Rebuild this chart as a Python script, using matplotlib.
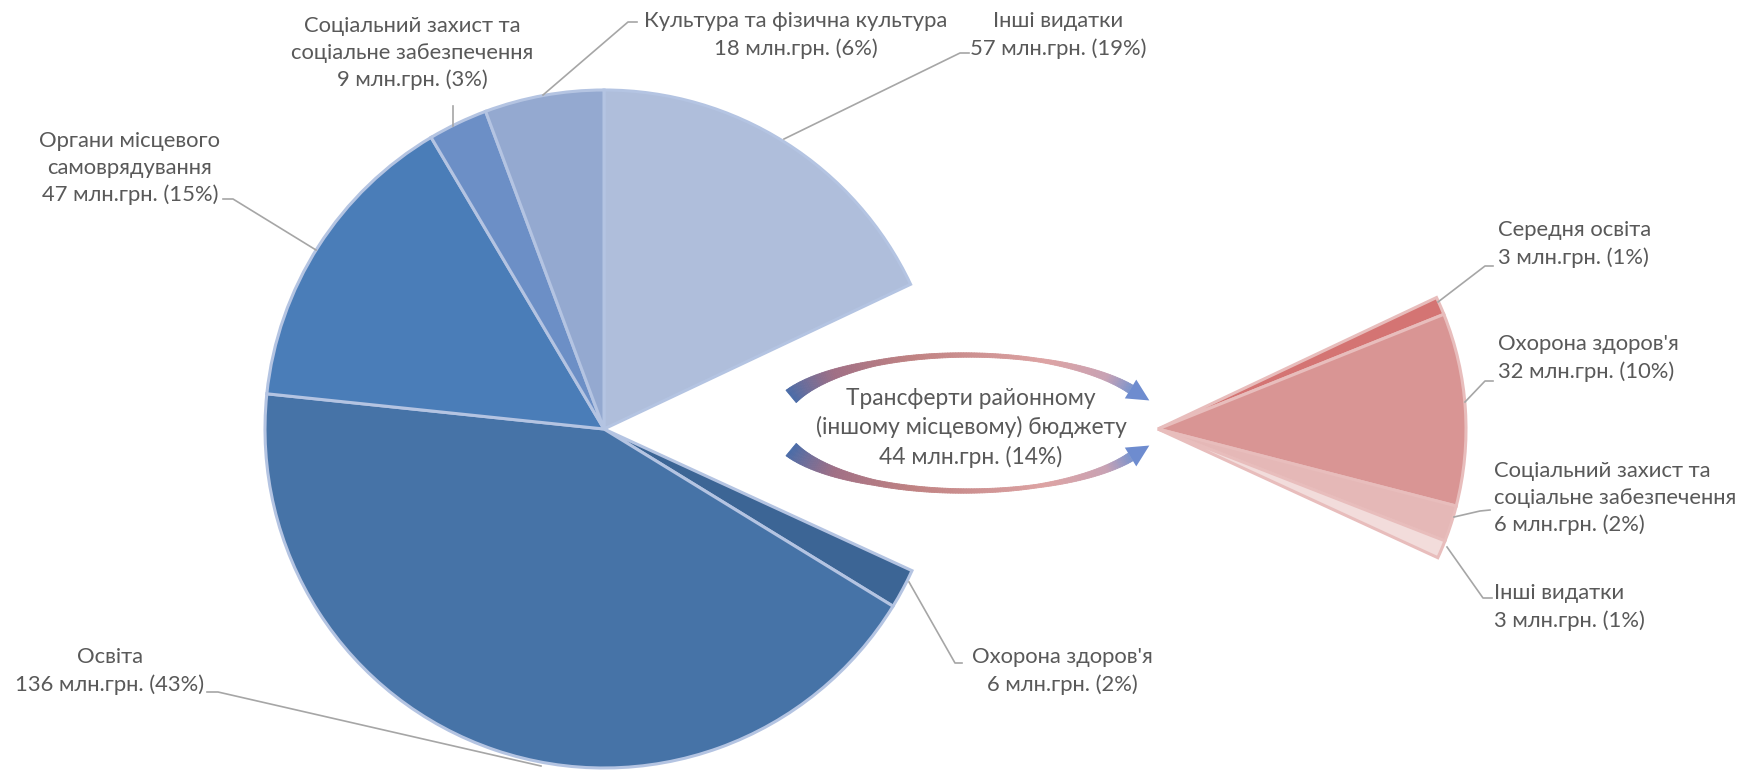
import numpy as np
import matplotlib.pyplot as plt
from matplotlib.collections import PolyCollection
from matplotlib.colors import LinearSegmentedColormap

plt.rcParams['font.family'] = ['Lato', 'DejaVu Sans']

W, H = 1755, 771

# main pie, clockwise from the top (transfers slice is left empty)
main_names = ['Інші видатки', 'Трансферти районному\n(іншому місцевому) бюджету', "Охорона здоров'я",
              'Освіта', 'Органи місцевого\nсамоврядування',
              'Соціальний захист та\nсоціальне забезпечення', 'Культура та фізична культура']
main_values = [57, 44, 6, 136, 47, 9, 18]
main_pct = [19, 14, 2, 43, 15, 3, 6]
main_colors = ['#AFBEDB', 'none', '#3C6595', '#4673A7', '#4A7DB8', '#6C8FC6', '#94A9D0']

# breakdown of the transfers slice
sub_names = ['Середня освіта', "Охорона здоров'я",
             'Соціальний захист та\nсоціальне забезпечення', 'Інші видатки']
sub_values = [3, 32, 6, 3]
sub_pct = [1, 10, 2, 1]
sub_colors = ['#D47473', '#D99594', '#E5B8B7', '#F2DCDB']

TXT = '#595959'
LEAD = '#A6A6A6'


def P(x, y):
    # pixel coords (y down) -> data coords
    return x, H - y


fig = plt.figure(figsize=(17.55, 7.71), dpi=100)
ax = fig.add_axes([0, 0, 1, 1])

total = sum(main_values)
main_c = P(604, 429)
R = 339
wedges, _ = ax.pie(main_values, colors=main_colors, startangle=90, counterclock=False,
                   center=main_c, radius=R,
                   wedgeprops=dict(edgecolor='#B4C4E2', linewidth=2.2))
wedges[1].set_visible(False)

# second piece: same angles as the missing slice, moved to the right
start2 = 90 - 360 * main_values[0] / total
sub_c = P(1158, 429)
w2, _ = ax.pie(sub_values + [total - sum(sub_values)], colors=sub_colors + ['none'],
               startangle=start2, counterclock=False, center=sub_c, radius=308,
               wedgeprops=dict(edgecolor='#E8BDBC', linewidth=2.2))
w2[-1].set_visible(False)

ax.set_xlim(0, W)
ax.set_ylim(0, H)
ax.set_aspect('equal')
ax.axis('off')

fs = 15.8
# label layout: (x, y) and leader path, in pixels
main_pos = [(1058, 35), (971, 428), (1062, 671), (110, 671),
            (130, 168), (412, 53), (796, 35)]
main_lead = [[(969, 53), (960, 53), (784, 139)],
             None,
             [(962, 663), (955, 663), (909, 582)],
             [(207, 692), (218, 692), (541, 766)],
             [(223, 199), (233, 199), (316, 250)],
             [(453, 106), (453, 126)],
             [(637, 22), (628, 22), (543, 95)]]
for name, v, p, (x, y), lead in zip(main_names, main_values, main_pct, main_pos, main_lead):
    size = fs if lead else fs + 0.6
    ax.text(*P(x, y), f'{name}\n{v} млн.грн. ({p}%)', ha='center', va='center',
            fontsize=size, color=TXT, linespacing=1.4)
    if lead:
        xs, ys = zip(*[P(*pt) for pt in lead])
        ax.plot(xs, ys, color=LEAD, lw=1.2)

sub_pos = [(1498, 244), (1498, 358), (1494, 498), (1494, 607)]
sub_lead = [[(1493, 266), (1485, 266), (1438, 302)],
            [(1493, 381), (1485, 381), (1465, 402)],
            [(1490, 510), (1480, 511), (1454, 517)],
            [(1492, 598), (1483, 598), (1447, 547)]]
for name, v, p, (x, y), lead in zip(sub_names, sub_values, sub_pct, sub_pos, sub_lead):
    ax.text(*P(x, y), f'{name}\n{v} млн.грн. ({p}%)', ha='left', va='center',
            fontsize=fs, color=TXT, linespacing=1.4)
    xs, ys = zip(*[P(*pt) for pt in lead])
    ax.plot(xs, ys, color=LEAD, lw=1.2)

# curved gradient arrows around the transfers label
cmap = LinearSegmentedColormap.from_list('arr', [(0, '#4A6CA8'), (0.18, '#A06F85'), (0.4, '#C08282'),
                                                 (0.72, '#DDA3A3'), (0.9, '#C8A2B4'), (1, '#7C94CC')])


def arc_arrow(side):
    cx, cy, a, b = 966, 423, 190, 68
    t = np.radians(np.linspace(157, 30, 160))
    s = np.linspace(0, 1, t.size)
    half = np.interp(s, [0, 0.3, 0.7, 1], [8, 2.8, 1.8, 4.5])
    x = cx + a * np.cos(t)
    y = cy - side * b * np.sin(t)
    dx, dy = np.gradient(x), np.gradient(y)
    n = np.hypot(dx, dy)
    ux, uy = dx / n, dy / n
    nx, ny = -uy, ux
    xo, yo = x + nx * half, y + ny * half
    xi, yi = x - nx * half, y - ny * half
    quads = []
    for i in range(len(t) - 1):
        q = [(xo[i], yo[i]), (xo[i + 1], yo[i + 1]), (xi[i + 1], yi[i + 1]), (xi[i], yi[i])]
        quads.append([P(*pt) for pt in q])
    cols = cmap(s[:-1])
    ax.add_collection(PolyCollection(quads, facecolors=cols, edgecolors=cols, linewidths=0.6))
    # head
    ex, ey = x[-1], y[-1]
    tip = (ex + ux[-1] * 22, ey + uy[-1] * 22)
    head = [P(ex + nx[-1] * 11, ey + ny[-1] * 11), P(*tip), P(ex - nx[-1] * 11, ey - ny[-1] * 11)]
    ax.add_patch(plt.Polygon(head, closed=True, facecolor='#6E8CCF', edgecolor='none'))


arc_arrow(1)
arc_arrow(-1)

fig.savefig('out.png', dpi=100)
